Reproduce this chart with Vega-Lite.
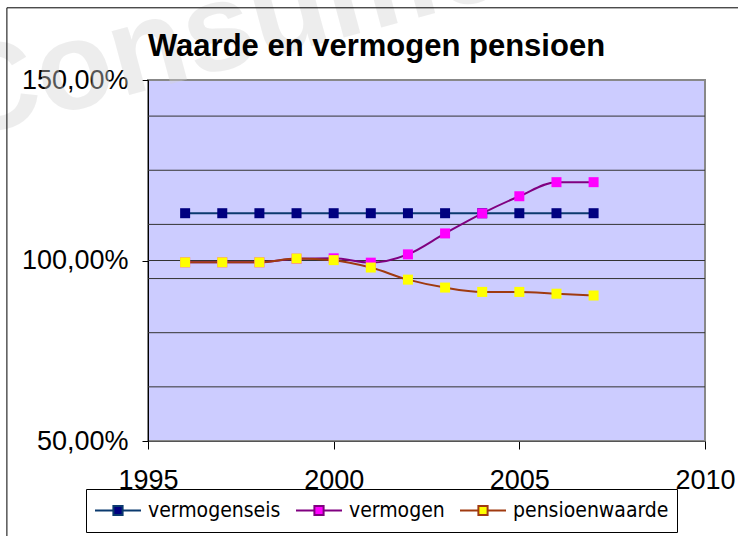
{
  "$schema": "https://vega.github.io/schema/vega-lite/v6.json",
  "width": 557,
  "height": 361,
  "autosize": {"type": "none"},
  "padding": {"left": 148, "top": 80, "right": 33, "bottom": 95},
  "background": "white",
  "title": {
    "text": "Waarde en vermogen pensioen",
    "anchor": "start",
    "frame": "group",
    "offset": 1,
    "dy": 315,
    "fontSize": 31,
    "font": "Liberation Sans",
    "fontWeight": "bold",
    "color": "black"
  },
  "config": {
    "view": {"fill": "#CCCCFF", "stroke": "#888888", "strokeWidth": 2},
    "font": "Liberation Sans"
  },
  "datasets": {
    "grid": [
      {"g": 65}, {"g": 80}, {"g": 95}, {"g": 100}, {"g": 110}, {"g": 125}, {"g": 140}
    ],
    "series": [
      {"year": 1996, "series": "vermogenseis", "v": 113.1},
      {"year": 1997, "series": "vermogenseis", "v": 113.1},
      {"year": 1998, "series": "vermogenseis", "v": 113.1},
      {"year": 1999, "series": "vermogenseis", "v": 113.1},
      {"year": 2000, "series": "vermogenseis", "v": 113.1},
      {"year": 2001, "series": "vermogenseis", "v": 113.1},
      {"year": 2002, "series": "vermogenseis", "v": 113.1},
      {"year": 2003, "series": "vermogenseis", "v": 113.1},
      {"year": 2004, "series": "vermogenseis", "v": 113.1},
      {"year": 2005, "series": "vermogenseis", "v": 113.1},
      {"year": 2006, "series": "vermogenseis", "v": 113.1},
      {"year": 2007, "series": "vermogenseis", "v": 113.1},
      {"year": 1996, "series": "vermogen", "v": 99.5},
      {"year": 1997, "series": "vermogen", "v": 99.5},
      {"year": 1998, "series": "vermogen", "v": 99.5},
      {"year": 1999, "series": "vermogen", "v": 100.5},
      {"year": 2000, "series": "vermogen", "v": 100.6},
      {"year": 2001, "series": "vermogen", "v": 99.4},
      {"year": 2002, "series": "vermogen", "v": 101.7},
      {"year": 2003, "series": "vermogen", "v": 107.5},
      {"year": 2004, "series": "vermogen", "v": 113.05},
      {"year": 2005, "series": "vermogen", "v": 117.8},
      {"year": 2006, "series": "vermogen", "v": 121.7},
      {"year": 2007, "series": "vermogen", "v": 121.7},
      {"year": 1996, "series": "pensioenwaarde", "v": 99.5},
      {"year": 1997, "series": "pensioenwaarde", "v": 99.5},
      {"year": 1998, "series": "pensioenwaarde", "v": 99.5},
      {"year": 1999, "series": "pensioenwaarde", "v": 100.55},
      {"year": 2000, "series": "pensioenwaarde", "v": 100.1},
      {"year": 2001, "series": "pensioenwaarde", "v": 98.05},
      {"year": 2002, "series": "pensioenwaarde", "v": 94.7},
      {"year": 2003, "series": "pensioenwaarde", "v": 92.5},
      {"year": 2004, "series": "pensioenwaarde", "v": 91.3},
      {"year": 2005, "series": "pensioenwaarde", "v": 91.3},
      {"year": 2006, "series": "pensioenwaarde", "v": 90.8},
      {"year": 2007, "series": "pensioenwaarde", "v": 90.3}
    ]
  },
  "layer": [
    {
      "data": {"name": "grid"},
      "mark": {"type": "rule", "color": "#333333", "strokeWidth": 1},
      "encoding": {
        "y": {"field": "g", "type": "quantitative", "scale": {"domain": [50, 150], "nice": false, "zero": false}}
      }
    },
    {
      "data": {"name": "series"},
      "mark": {"type": "line", "interpolate": "monotone", "strokeWidth": 2},
      "encoding": {
        "x": {
          "field": "year", "type": "quantitative",
          "scale": {"domain": [1995, 2010], "nice": false, "zero": false},
          "axis": {
            "values": [1995, 2000, 2005, 2010], "format": "d", "title": null, "grid": false,
            "labelFontSize": 27, "labelColor": "black", "tickSize": 8, "tickColor": "black",
            "domainColor": "#555555", "labelPadding": 18, "labelFlush": false, "labelOverlap": false
          }
        },
        "y": {
          "field": "v", "type": "quantitative",
          "scale": {"domain": [50, 150], "nice": false, "zero": false},
          "axis": {
            "values": [50, 100, 150], "title": null, "grid": false,
            "labelExpr": "replace(format(datum.value, '.2f'), '.', ',') + '%'",
            "labelFontSize": 27, "labelColor": "black", "tickSize": 6, "tickColor": "black",
            "domainColor": "black", "labelPadding": 14
          }
        },
        "stroke": {
          "field": "series", "type": "nominal",
          "scale": {"domain": ["vermogenseis", "vermogen", "pensioenwaarde"], "range": ["#0B3A6E", "#800080", "#A03A10"]},
          "legend": {
            "title": null, "orient": "none", "legendX": -62, "legendY": 409, "direction": "horizontal", "columns": 3,
            "symbolType": "M-1,0H-0.2M0.2,0H1M-0.2,-0.2H0.2V0.2H-0.2Z", "symbolSize": 2116, "symbolStrokeWidth": 2,
            "clipHeight": 27,
            "labelFontSize": 21, "labelFont": "DejaVu Sans Condensed, Liberation Sans", "labelColor": "black", "labelLimit": 400,
            "strokeColor": "black", "fillColor": "white", "padding": 8, "columnPadding": 14, "labelOffset": 6
          }
        }
      }
    },
    {
      "data": {"name": "series"},
      "mark": {"type": "square", "size": 100, "filled": true, "opacity": 1},
      "encoding": {
        "x": {"field": "year", "type": "quantitative", "scale": {"domain": [1995, 2010], "nice": false, "zero": false}},
        "y": {"field": "v", "type": "quantitative", "scale": {"domain": [50, 150], "nice": false, "zero": false}},
        "fill": {
          "field": "series", "type": "nominal",
          "scale": {"domain": ["vermogenseis", "vermogen", "pensioenwaarde"], "range": ["#000080", "#FF00FF", "#FFFF00"]},
          "legend": {
            "title": null, "orient": "none", "legendX": -62, "legendY": 409, "direction": "horizontal", "columns": 3,
            "symbolType": "M-1,0H-0.2M0.2,0H1M-0.2,-0.2H0.2V0.2H-0.2Z", "symbolSize": 2116, "symbolStrokeWidth": 2,
            "clipHeight": 27,
            "labelFontSize": 21, "labelFont": "DejaVu Sans Condensed, Liberation Sans", "labelColor": "black", "labelLimit": 400,
            "strokeColor": "black", "fillColor": "white", "padding": 8, "columnPadding": 14, "labelOffset": 6
          }
        }
      }
    },
    {
      "data": {"values": [{}]},
      "mark": {"type": "text", "text": "Consumentenbond", "fontSize": 125, "font": "Liberation Sans", "fontWeight": "bold", "angle": -15, "align": "left", "baseline": "alphabetic", "color": "#d4d4d4", "opacity": 0.4},
      "encoding": {
        "x": {"datum": 1989.93, "type": "quantitative", "scale": {"domain": [1995, 2010], "nice": false, "zero": false}},
        "y": {"datum": 133.3, "type": "quantitative", "scale": {"domain": [50, 150], "nice": false, "zero": false}}
      }
    },
    {
      "data": {"values": [{}]},
      "mark": {"type": "rule", "color": "black", "strokeWidth": 1},
      "encoding": {
        "x": {"datum": 1991.2, "type": "quantitative", "scale": {"domain": [1995, 2010], "nice": false, "zero": false}},
        "x2": {"datum": 2030},
        "y": {"datum": 170, "type": "quantitative", "scale": {"domain": [50, 150], "nice": false, "zero": false}},
        "y2": {"datum": 170}
      }
    },
    {
      "data": {"values": [{}]},
      "mark": {"type": "rule", "color": "black", "strokeWidth": 1},
      "encoding": {
        "x": {"datum": 1991.2, "type": "quantitative", "scale": {"domain": [1995, 2010], "nice": false, "zero": false}},
        "y": {"datum": 170, "type": "quantitative", "scale": {"domain": [50, 150], "nice": false, "zero": false}},
        "y2": {"datum": 20}
      }
    }
  ]
}
